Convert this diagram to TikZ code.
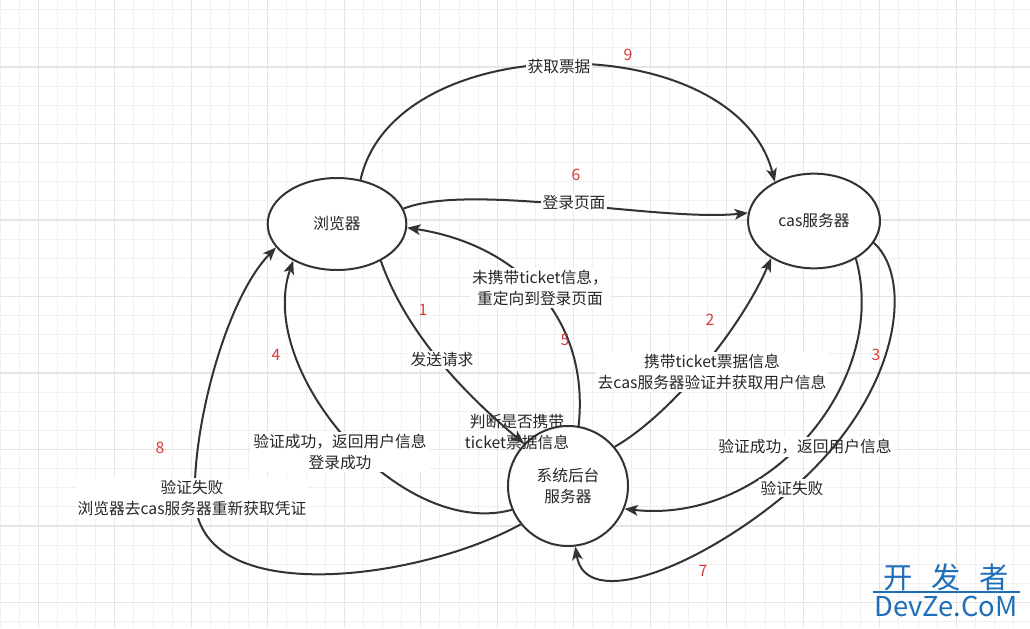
\documentclass[tikz,border=0pt]{standalone}
\usepackage{fontspec}
\setmainfont{Noto Sans CJK SC}
\usetikzlibrary{arrows.meta,shapes.geometric}
\definecolor{lncol}{HTML}{333333}
\definecolor{numred}{RGB}{214,58,58}
\definecolor{gridmin}{RGB}{240,240,240}
\definecolor{gridmaj}{RGB}{229,229,229}
\definecolor{wmblue}{RGB}{30,110,185}
\begin{document}
\begin{tikzpicture}[x=0.75pt,y=-0.75pt,
  every node/.style={font=\fontsize{11.8}{15.5}\selectfont, text=black!85},
  ell/.style={ellipse, draw=lncol, line width=1.5pt, fill=white, inner sep=0pt},
  circ/.style={circle, draw=lncol, line width=1.5pt, fill=white, minimum size=90pt, inner sep=0pt, align=center},
  conn/.style={draw=lncol, line width=1.5pt, -{Stealth[length=10pt,width=8pt,inset=2.5pt]}},
  lbl/.style={fill=white, inner sep=1.5pt, align=center},
  nlabel/.style={text=numred}]
\useasboundingbox[fill=white] (0,0) rectangle (1030,628);
% grid
\foreach \i in {0,...,53} \draw[gridmin, line width=0.7pt] ({0.05+19.125*\i},0) -- ({0.05+19.125*\i},628);
\foreach \i in {0,...,32} \draw[gridmin, line width=0.7pt] (0,{9.6+19.125*\i}) -- (1030,{9.6+19.125*\i});
\foreach \i in {0,...,12} \draw[gridmaj, line width=0.8pt] ({38.3+76.5*\i},0) -- ({38.3+76.5*\i},628);
\foreach \i in {0,...,7} \draw[gridmaj, line width=0.8pt] (0,{67+76.5*\i}) -- (1030,{67+76.5*\i});

% nodes
\node[ell, minimum width=104pt, minimum height=69pt] (br) at (337,224) {浏览器};
\node[ell, minimum width=99pt, minimum height=71pt] (cas) at (814,221) {cas服务器};
\node[circ] (be) at (568,486) {系统后台\\服务器};
\node[align=center] (judge) at (517,432) {判断是否携带\\ticket票据信息};

% 9
\draw[conn] (br.62) .. controls (395,26) and (735,26) .. (cas.135);
\node[lbl] (l9) at (559,67) {获取票据};
\node[nlabel] (n9) at (628,55) {9};
% 6
\draw[conn] (br.13) .. controls (470,182) and (660,222) .. (cas.173);
\node[lbl] (l6) at (574,203) {登录页面};
\node[nlabel] (n6) at (576,175) {6};
% 1
\draw[conn] (br.320) .. controls (405,330) and (460,390) .. (be.136);
\node[lbl] (l1) at (442,360) {发送请求};
\node[nlabel] (n1) at (423,310) {1};
% 5
\draw[conn] (be.80) .. controls (590,320) and (520,245) .. (br.357);
\node[lbl] (l5) at (540,288) {未携带ticket信息，\\重定向到登录页面};
\node[nlabel] (n5) at (565,340) {5};
% 2
\draw[conn] (be.40) .. controls (670,415) and (740,330) .. (cas.221);
\node[lbl] (l2) at (712,372) {携带ticket票据信息\\去cas服务器验证并获取用户信息};
\node[nlabel] (n2) at (710,320) {2};
% 3
\draw[conn] (cas.318) .. controls (890,380) and (770,525) .. (be.-22);
\node[lbl] (l3) at (805,447) {验证成功，返回用户信息};
\node[nlabel] (n3) at (876,355) {3};
% 7
\coordinate (w7) at (785,495);
\draw[conn] (cas.340) .. controls (915,280) and (900,400) .. (w7) .. controls (693,571) and (585,610) .. (be.-83);
\node[lbl] (l7) at (792,488) {验证失败};
\node[nlabel] (n7) at (703,571) {7};
% 4
\draw[conn] (be.203) .. controls (400,540) and (255,370) .. (br.220);
\node[lbl] (l4) at (340,452) {验证成功，返回用户信息\\登录成功};
\node[nlabel] (n4) at (276,355) {4};
% 8
\coordinate (w8) at (195,500);
\draw[conn] (be.219) .. controls (420,580) and (200,610) .. (w8) .. controls (192,430) and (225,300) .. (br.201);
\node[lbl] (l8) at (192,498) {验证失败\\浏览器去cas服务器重新获取凭证};
\node[nlabel] (n8) at (160,448) {8};

% watermark
\node[text=wmblue, font=\fontsize{22}{22}\selectfont] (wm1) at (946,577) {开\hspace{14pt}发\hspace{14pt}者};
\draw[wmblue, line width=0.8pt] (873,592) -- (1020,592);
\node[text=wmblue, font=\fontsize{20.5}{20.5}\selectfont] (wm2) at (946,606) {DevZe.CoM};
\end{tikzpicture}
\end{document}
